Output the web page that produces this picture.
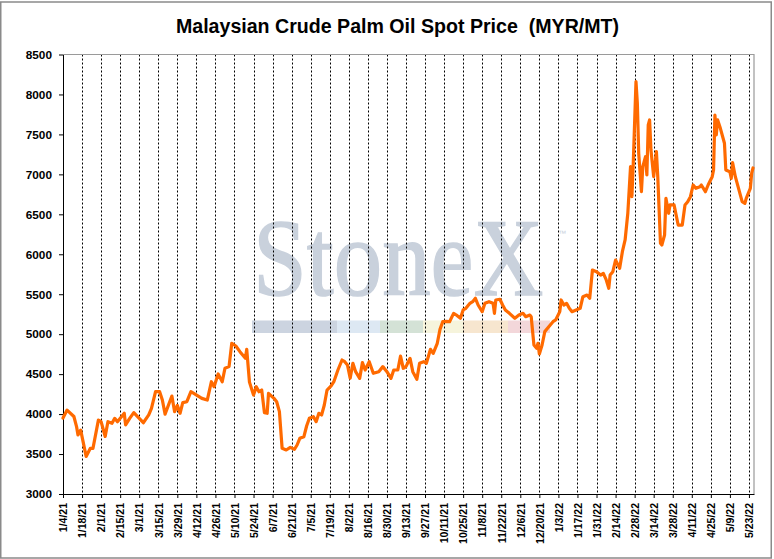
<!DOCTYPE html>
<head>
  <meta charset="utf-8" />
  <script src="https://d3js.org/d3.v7.min.js"></script>
  <style>
    body {
      margin: 0;
      background: #fff;
    }
    svg {
      font-family: "Liberation Sans", Arial, sans-serif;
    }
    .axis text {
      font-weight: bold;
      fill: #000;
    }
    .axis path,
    .axis line {
      stroke: #000;
    }
    .grid line {
      stroke: #000;
      stroke-width: 1px;
      stroke-dasharray: 2, 2;
    }
  </style>
</head>

<body>
  <script>
    // prix spot (MYR/MT)
    var dates = [
      "2021-01-04","2021-01-07","2021-01-12","2021-01-14","2021-01-15","2021-01-17","2021-01-21","2021-01-24","2021-01-26","2021-01-30",
      "2021-02-01","2021-02-04","2021-02-06","2021-02-09","2021-02-11","2021-02-13","2021-02-18","2021-02-19","2021-02-22","2021-02-25",
      "2021-03-04","2021-03-08","2021-03-10","2021-03-13","2021-03-16","2021-03-18","2021-03-20","2021-03-25","2021-03-27","2021-03-29","2021-03-31",
      "2021-04-02","2021-04-05","2021-04-08","2021-04-11","2021-04-16","2021-04-20","2021-04-23","2021-04-25","2021-04-28",
      "2021-05-01","2021-05-03","2021-05-06","2021-05-08","2021-05-11","2021-05-14","2021-05-18","2021-05-19","2021-05-21","2021-05-24","2021-05-26","2021-05-28","2021-05-30",
      "2021-06-01","2021-06-03","2021-06-04","2021-06-08","2021-06-10","2021-06-12","2021-06-14","2021-06-17","2021-06-20","2021-06-23","2021-06-25","2021-06-27","2021-06-30",
      "2021-07-02","2021-07-04","2021-07-07","2021-07-09","2021-07-11","2021-07-13","2021-07-15","2021-07-17","2021-07-20","2021-07-22","2021-07-25","2021-07-28","2021-07-30",
      "2021-08-01","2021-08-03","2021-08-05","2021-08-07","2021-08-10","2021-08-12","2021-08-14","2021-08-17","2021-08-20","2021-08-24","2021-08-27","2021-08-30",
      "2021-09-02","2021-09-04","2021-09-07","2021-09-09","2021-09-11","2021-09-13","2021-09-16","2021-09-18","2021-09-21","2021-09-23","2021-09-26","2021-09-28",
      "2021-10-01","2021-10-03","2021-10-06","2021-10-08","2021-10-10","2021-10-13","2021-10-15","2021-10-18","2021-10-20","2021-10-23","2021-10-25","2021-10-27","2021-10-30",
      "2021-11-01","2021-11-03","2021-11-05","2021-11-08","2021-11-10","2021-11-13","2021-11-16","2021-11-17","2021-11-18","2021-11-21","2021-11-23","2021-11-25","2021-11-28",
      "2021-12-02","2021-12-05","2021-12-08","2021-12-10","2021-12-13","2021-12-14","2021-12-16","2021-12-18","2021-12-19","2021-12-20","2021-12-22","2021-12-24","2021-12-26","2021-12-28","2021-12-30",
      "2022-01-01","2022-01-04","2022-01-05","2022-01-07","2022-01-09","2022-01-11","2022-01-13","2022-01-16","2022-01-19","2022-01-21","2022-01-24","2022-01-26","2022-01-28","2022-01-31",
      "2022-02-03","2022-02-05","2022-02-07","2022-02-09","2022-02-10","2022-02-12","2022-02-14","2022-02-17","2022-02-19","2022-02-21","2022-02-23","2022-02-25","2022-02-26","2022-02-27",
      "2022-03-01","2022-03-02","2022-03-03","2022-03-05","2022-03-06","2022-03-08","2022-03-09","2022-03-10","2022-03-11","2022-03-12","2022-03-14","2022-03-16","2022-03-17","2022-03-19","2022-03-20","2022-03-22","2022-03-23","2022-03-25","2022-03-26","2022-03-29",
      "2022-04-01","2022-04-04","2022-04-06","2022-04-08","2022-04-10","2022-04-12","2022-04-14","2022-04-17","2022-04-18","2022-04-21","2022-04-23","2022-04-26","2022-04-27","2022-04-28","2022-04-29","2022-04-30",
      "2022-05-02","2022-05-05","2022-05-06","2022-05-09","2022-05-10","2022-05-11","2022-05-13","2022-05-15","2022-05-18","2022-05-20","2022-05-21","2022-05-24","2022-05-25","2022-05-26"
    ];

    var prices = [
      3950,4050,3970,3840,3740,3800,3470,3570,3570,3925,
      3905,3720,3905,3885,3947,3905,4010,3865,3947,4018,
      3892,3990,4072,4280,4280,4176,4000,4226,4030,4110,4010,
      4143,4155,4280,4250,4197,4176,4405,4343,4502,
      4405,4573,4594,4886,4852,4781,4698,4811,4400,4239,4343,4280,4301,
      4018,4010,4260,4197,4155,4030,3572,3551,3584,3559,3613,3697,3717,
      3851,3947,3968,3905,4010,3989,4114,4301,4352,4405,4552,4677,4656,
      4615,4448,4636,4531,4448,4644,4552,4656,4510,4531,4594,4531,
      4448,4552,4552,4727,4573,4594,4698,4531,4436,4636,4656,4636,
      4811,4760,4886,5060,5156,5160,5156,5261,5240,5199,5303,5324,5386,
      5407,5449,5365,5282,5386,5407,5386,5261,5428,5437,5365,5303,5261,
      5199,5240,5261,5219,5240,5219,4865,4823,4886,4752,4865,5032,5074,5115,5156,
      5178,5282,5428,5365,5386,5324,5282,5303,5324,5469,5490,5449,5803,5782,
      5740,5761,5686,5574,5740,5782,5928,5824,6032,6179,6513,7096,6721,7138,
      8160,7889,7264,6783,7096,7221,6992,7618,7681,7305,6971,7284,6971,6137,6116,6241,6700,6513,6617,6617,
      6366,6366,6617,6658,6721,6867,6825,6846,6867,6783,6867,6971,7055,7743,7493,7681,
      7576,7389,7055,7034,6950,7146,6971,6846,6658,6637,6700,6825,7013,7080
    ];

    // graduations
    var yTicks = [3000, 3500, 4000, 4500, 5000, 5500, 6000, 6500, 7000, 7500, 8000, 8500];
    var firstTick = "2021-01-04",
      lastTick = "2022-05-23",
      tickStepDays = 14;

    // bandeau du filigrane
    var bandColors = ["#ccd4e0", "#dde8f3", "#d4e2d6", "#f6f4dc", "#f7e6cf", "#f3d7da"];
    var bandWidths = [85, 43, 43, 40, 45, 42];

    var width = 774,
      height = 559;
    var margin = { top: 54.5, right: 20, bottom: 65, left: 63 };

    var parse = d3.timeParse("%Y-%m-%d");
    var data = d3.zip(dates, prices).map(function (d) {
      return { date: parse(d[0]), value: d[1] };
    });

    var svg = d3
      .select("body")
      .append("svg")
      .attr("width", width)
      .attr("height", height);

    // cadre exterieur
    svg
      .append("rect")
      .attr("x", 0.75)
      .attr("y", 2)
      .attr("width", 770.5)
      .attr("height", 556)
      .attr("fill", "#fff")
      .attr("stroke", "#8a8a8a")
      .attr("stroke-width", 1.5);

    var x = d3
      .scaleTime()
      .domain([parse(firstTick), new Date(2022, 4, 26, 17)])
      .range([margin.left, 754]);

    var y = d3
      .scaleLinear()
      .domain([3000, 8500])
      .range([height - margin.bottom, margin.top]);

    var xTicks = d3.timeDay.range(
      parse(firstTick),
      d3.timeDay.offset(parse(lastTick), 1),
      tickStepDays
    );

    // titre (double espace conserve)
    svg
      .append("text")
      .attr("x", 397.5)
      .attr("y", 33)
      .attr("text-anchor", "middle")
      .attr("xml:space", "preserve")
      .style("white-space", "pre")
      .style("font-size", "19.6px")
      .style("font-weight", "bold")
      .text("Malaysian Crude Palm Oil Spot Price  (MYR/MT)");

    // filigrane StoneX
    var wm = svg.append("g").attr("class", "watermark");
    wm.append("text")
      .attr("transform", "translate(253,295) scale(0.88,1)")
      .style("font-family", "'Liberation Serif', 'Times New Roman', serif")
      .style("font-size", "110px")
      .style("fill", "#c9d1dc")
      .style("stroke", "#c9d1dc")
      .style("stroke-width", 1.5)
      .text("StoneX");
    wm.append("text")
      .attr("x", 558)
      .attr("y", 236)
      .style("font-size", "8px")
      .style("fill", "#c9d1dc")
      .text("\u2122");

    var bx = 252;
    bandColors.forEach(function (c, i) {
      wm.append("rect")
        .attr("x", bx)
        .attr("y", 320.5)
        .attr("width", bandWidths[i])
        .attr("height", 12.5)
        .attr("fill", c);
      bx += bandWidths[i];
    });

    // lignes verticales pointillees
    svg
      .append("g")
      .attr("class", "grid")
      .selectAll("line")
      .data(xTicks)
      .join("line")
      .attr("x1", function (d) {
        return Math.round(x(d)) + 0.5;
      })
      .attr("x2", function (d) {
        return Math.round(x(d)) + 0.5;
      })
      .attr("y1", y(8500))
      .attr("y2", y(3000));

    // bordure haut et droite de la zone
    svg
      .append("path")
      .attr(
        "d",
        "M" + margin.left + "," + y(8500) + "H" + x.range()[1] + "V" + y(3000)
      )
      .attr("fill", "none")
      .attr("stroke", "#9a9a9a")
      .attr("stroke-width", 1.2);

    // axe x
    var xAxis = svg
      .append("g")
      .attr("class", "axis")
      .attr("transform", "translate(0," + y(3000) + ")")
      .call(
        d3
          .axisBottom(x)
          .tickValues(xTicks)
          .tickFormat(d3.timeFormat("%-m/%-d/%y"))
          .tickSizeInner(4)
          .tickSizeOuter(0)
      );
    xAxis
      .selectAll("text")
      .attr("x", -9)
      .attr("y", 0)
      .attr("dy", "0.36em")
      .attr("transform", "rotate(-90)")
      .style("text-anchor", "end")
      .style("font-size", "10.5px");

    // axe y
    svg
      .append("g")
      .attr("class", "axis")
      .attr("transform", "translate(" + margin.left + ",0)")
      .call(
        d3
          .axisLeft(y)
          .tickValues(yTicks)
          .tickFormat(d3.format("d"))
          .tickSizeInner(4)
          .tickSizeOuter(0)
          .tickPadding(7)
      )
      .selectAll("text")
      .style("font-size", "11.8px");

    // courbe
    var line = d3
      .line()
      .x(function (d) {
        return x(d.date);
      })
      .y(function (d) {
        return y(d.value);
      });

    svg
      .append("path")
      .datum(data)
      .attr("d", line)
      .attr("fill", "none")
      .attr("stroke", "#ff6a00")
      .attr("stroke-width", 3.2)
      .attr("stroke-linejoin", "round")
      .attr("stroke-linecap", "round");
  </script>
</body>
